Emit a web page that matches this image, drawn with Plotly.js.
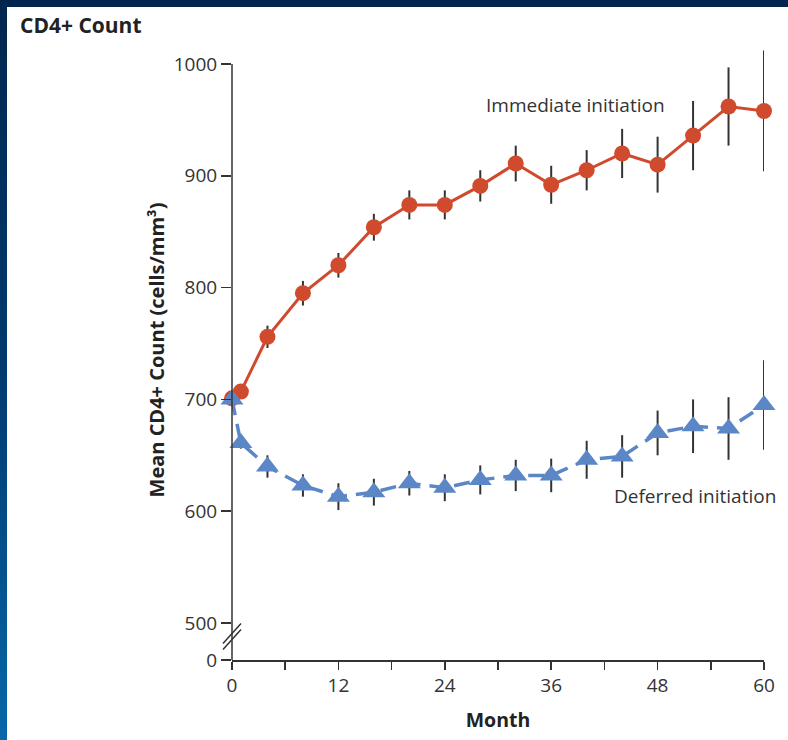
<!DOCTYPE html>
<html><head><meta charset="utf-8">
<script src="https://cdn.plot.ly/plotly-3.0.1.min.js"></script>
<style>
html,body{margin:0;padding:0;}
body{width:788px;height:740px;position:relative;overflow:hidden;background:linear-gradient(to bottom,#00264f 0%,#013a6e 50%,#0767a8 100%);}
#panel{position:absolute;left:7px;top:7px;right:0;bottom:0;background:#fff;}
#chart{position:absolute;left:0;top:0;width:788px;height:740px;}
</style></head>
<body><div id="panel"></div><div id="chart"></div>
<script>
const months = [0,1,4,8,12,16,20,24,28,32,36,40,44,48,52,56,60];
const immediateMean = [701,707,756,795,820,854,874,874,891,911,892,905,920,910,936,962,958];
const immediateErr  = [0,6,10,11,11,12,13,13,14,16,17,18,22,25,31,35,54];
const deferredMean  = [700,661,640,623,613,617,625,621,628,632,632,646,649,670,676,674,695];
const deferredErr   = [0,5,10,10,12,12,11,12,13,14,15,17,19,20,24,28,40];
const xTickVals = [0,6,12,18,24,30,36,42,48,54,60];
const xTickText = ['0','','12','','24','','36','','48','','60'];
const yZero = 466.9;
const yTickVals = [yZero,500,600,700,800,900,1000];
const yTickText = ['0','500','600','700','800','900','1000'];

const FONT = '"Open Sans", "Noto Sans", sans-serif';
const INK = '#333333';

const traces = [
  {
    x: months, y: immediateMean, type: 'scatter', mode: 'lines+markers',
    name: 'Immediate initiation',
    line: {color: '#d04a2e', width: 3},
    marker: {symbol: 'circle', size: 16, color: '#d04a2e'},
    error_y: {type: 'data', array: immediateErr, visible: true, color: INK, thickness: 2, width: 0},
    cliponaxis: false
  },
  {
    x: months, y: deferredMean, type: 'scatter', mode: 'lines+markers',
    name: 'Deferred initiation',
    line: {color: '#5b87c6', width: 3.5, dash: '16px,9px'},
    marker: {symbol: 'triangle-up', size: 20, color: '#5b87c6'},
    error_y: {type: 'data', array: deferredErr, visible: true, color: INK, thickness: 2, width: 0},
    cliponaxis: false
  }
];

const layout = {
  width: 788, height: 740,
  paper_bgcolor: 'rgba(0,0,0,0)', plot_bgcolor: 'rgba(0,0,0,0)',
  margin: {l: 232, r: 24, t: 40, b: 80},
  showlegend: false,
  font: {family: FONT, color: INK, size: 19},
  title: {
    text: '<b>CD4+ Count</b>', xref: 'container', yref: 'container',
    x: 20/788, xanchor: 'left', y: 1 - 26/740, yanchor: 'middle',
    font: {family: FONT, size: 21, color: '#222'}
  },
  xaxis: {
    range: [0, 60], tickmode: 'array', tickvals: xTickVals, ticktext: xTickText,
    ticks: 'outside', ticklen: 8, tickwidth: 1.5, tickcolor: INK,
    showline: true, linecolor: INK, linewidth: 1.5,
    showgrid: false, zeroline: false,
    tickfont: {family: FONT, size: 19, color: INK},
    title: {text: '<b>Month</b>', font: {family: FONT, size: 19.5, color: '#222'}, standoff: 16}
  },
  yaxis: {
    range: [yZero, 1021.5], tickmode: 'array', tickvals: yTickVals, ticktext: yTickText,
    ticks: 'outside', ticklen: 10, tickwidth: 1.5, tickcolor: INK,
    showline: false, showgrid: false, zeroline: false,
    tickfont: {family: FONT, size: 19, color: INK},
    title: {text: '<b>Mean CD4+ Count (cells/mm³)</b>', font: {family: FONT, size: 20, color: '#222'}, standoff: 3}
  },
  shapes: [
    {type: 'line', xref: 'paper', yref: 'y', x0: 0, x1: 0, y0: yZero, y1: 1000,
     line: {color: INK, width: 1.5}},
    {type: 'line', xref: 'paper', yref: 'y', xsizemode: 'pixel', xanchor: 0,
     ysizemode: 'pixel', yanchor: 488, x0: -9, x1: 9, y0: -13, y1: 7,
     line: {color: INK, width: 1.5}},
    {type: 'line', xref: 'paper', yref: 'y', xsizemode: 'pixel', xanchor: 0,
     ysizemode: 'pixel', yanchor: 488, x0: -9, x1: 9, y0: -7, y1: 13,
     line: {color: INK, width: 1.5}}
  ],
  annotations: [
    {text: 'Immediate initiation', x: 38.7, y: 963, xref: 'x', yref: 'y',
     showarrow: false, font: {family: FONT, size: 19, color: INK}},
    {text: 'Deferred initiation', x: 52.2, y: 613.5, xref: 'x', yref: 'y',
     showarrow: false, font: {family: FONT, size: 19, color: INK}}
  ]
};

Plotly.newPlot('chart', traces, layout, {displayModeBar: false, staticPlot: true});
</script>
</body></html>
